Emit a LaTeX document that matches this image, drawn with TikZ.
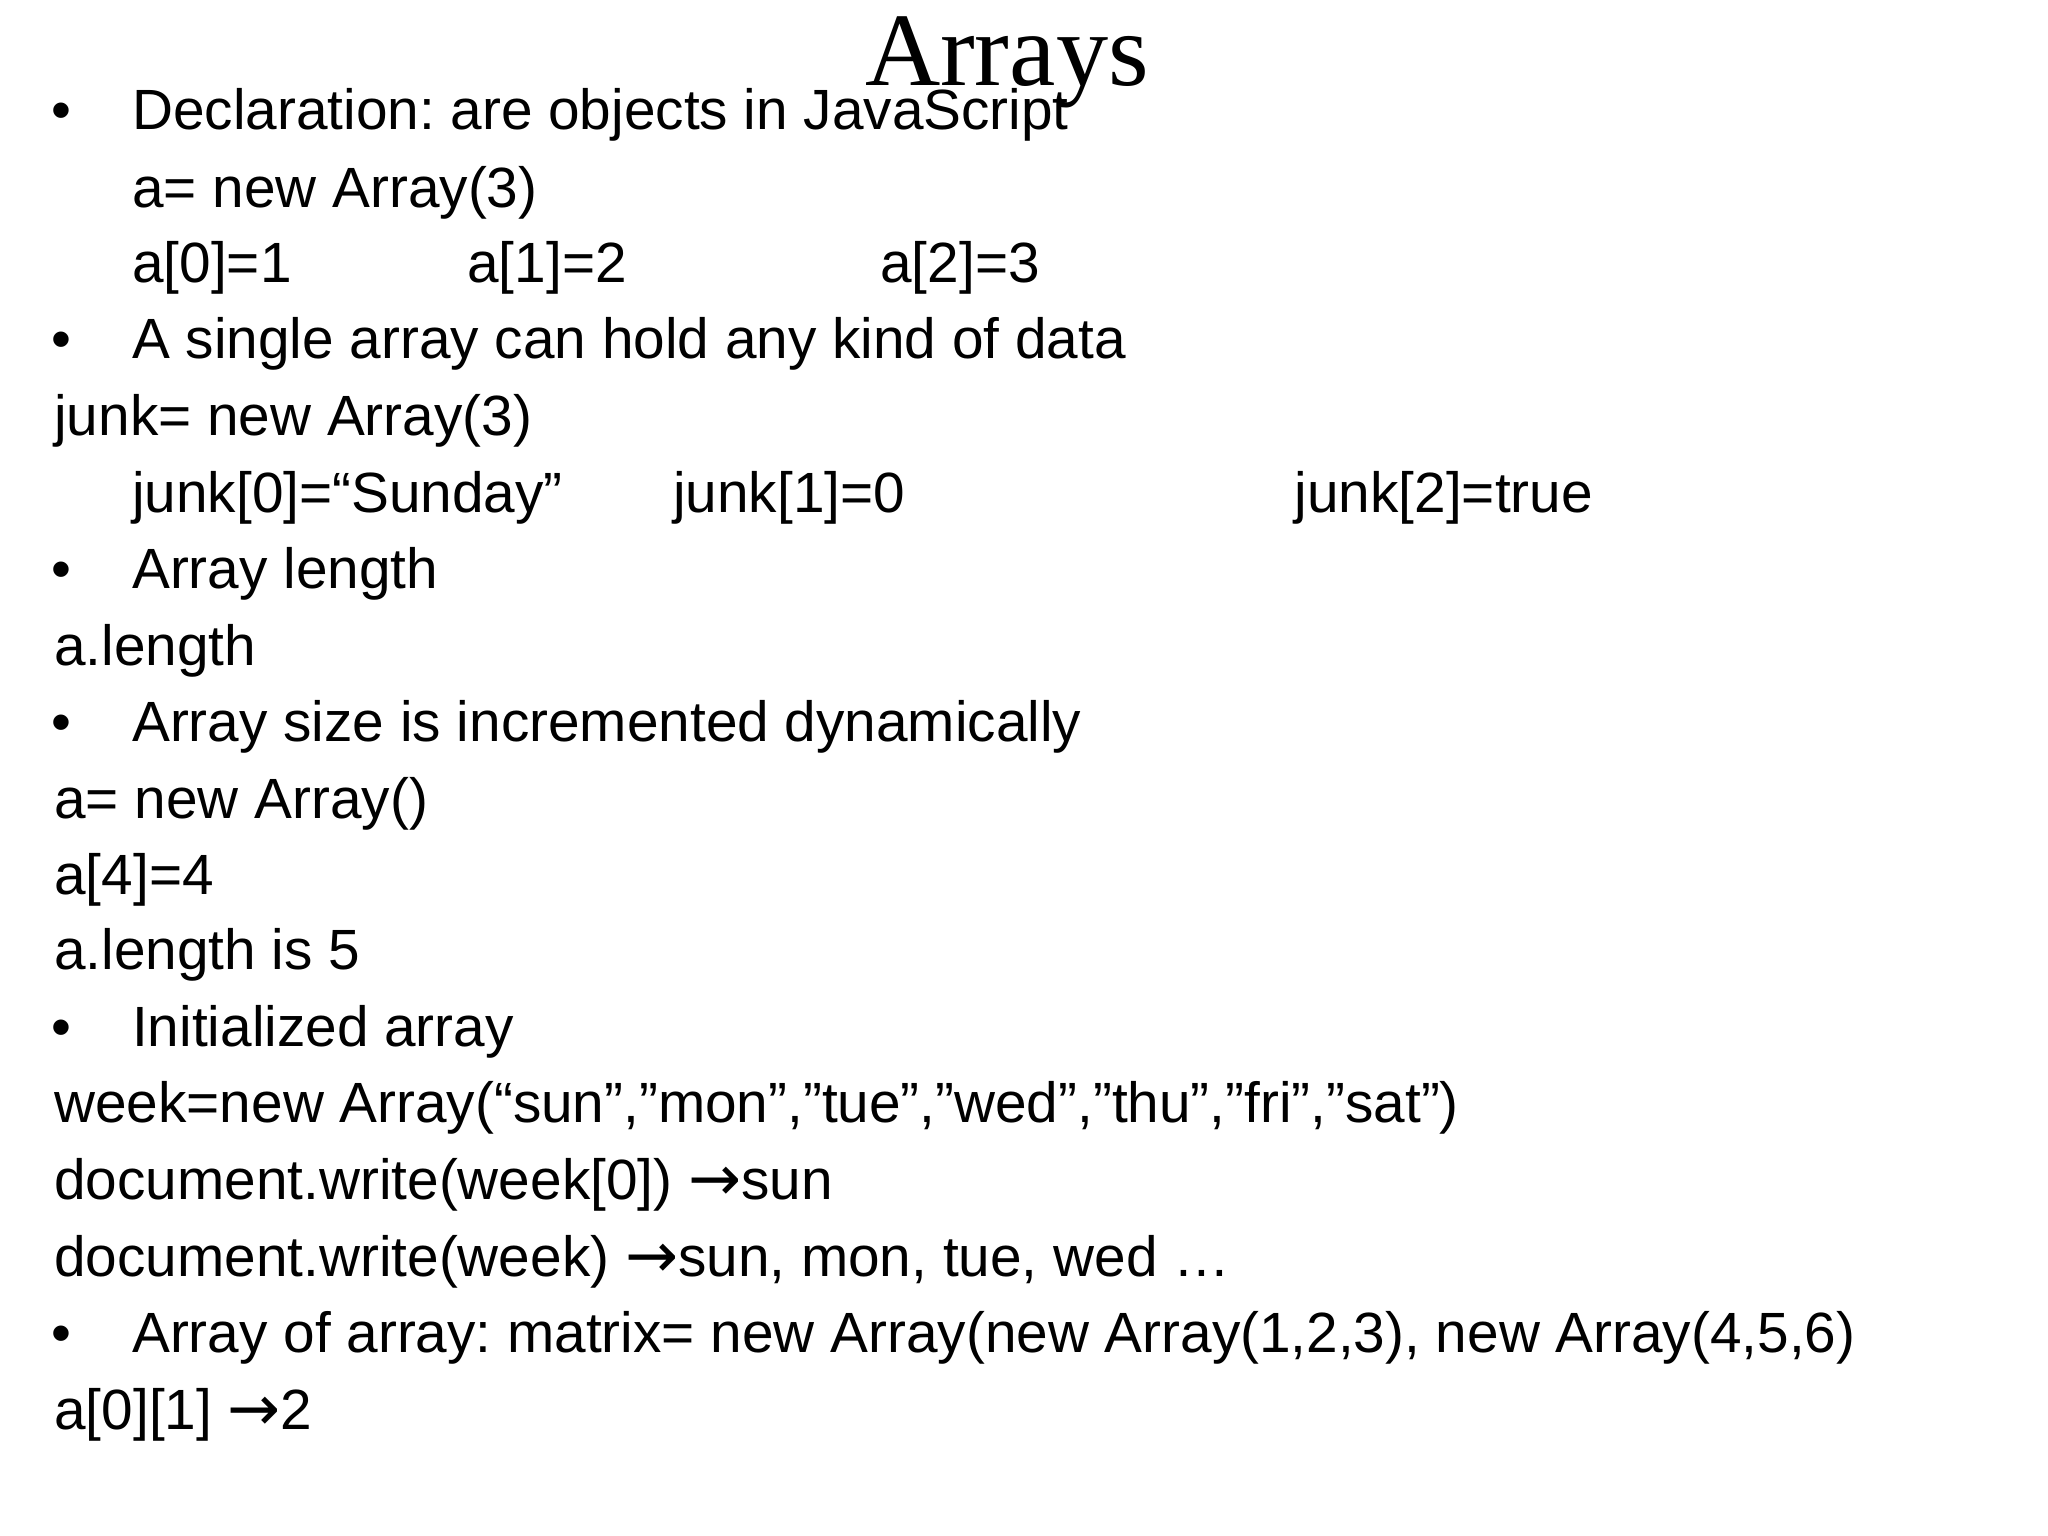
\documentclass[tikz,border=0pt]{standalone}
\usepackage{fontspec}
\setmainfont{Liberation Sans}
\newfontfamily\titlefont{Liberation Serif}
\newfontfamily\arrfont{DejaVu Sans}
\newcommand{\myarr}{{\arrfont\fontsize{48}{50}\selectfont\raisebox{-1pt}{→}}}
\frenchspacing
\begin{document}
\begin{tikzpicture}[x=1pt,y=-1pt,
  t/.style={anchor=base west,inner sep=0pt,font=\frenchspacing\fontsize{43}{50}\selectfont}]
\useasboundingbox[fill=white] (0,0) rectangle (1552,1164);
\node[anchor=base,inner sep=0pt,font=\titlefont\fontsize{79}{90}\selectfont] (title) at (763,65) {Arrays};
\foreach \y/\n in {98/b1,272/b2,446/b3,562/b4,793/b5,1025/b6}
  \node[t] (\n) at (39,\y) {•};
\node[t] (l1) at (100,98) {Declaration: are objects in JavaScript};
\node[t] (l2) at (100,157) {a= new Array(3)};
\node[t] (l3a) at (100,214) {a[0]=1};
\node[t] (l3b) at (354,214) {a[1]=2};
\node[t] (l3c) at (667,214) {a[2]=3};
\node[t] (l4) at (100,272) {A single array can hold any kind of data};
\node[t] (l5) at (41,330) {junk= new Array(3)};
\node[t] (l6a) at (100,388) {junk[0]=“Sunday”};
\node[t] (l6b) at (510,388) {junk[1]=0};
\node[t] (l6c) at (981,388) {junk[2]=true};
\node[t] (l7) at (100,446) {Array length};
\node[t] (l8) at (41,504) {a.length};
\node[t] (l9) at (100,562) {Array size is incremented dynamically};
\node[t] (l10) at (41,620) {a= new Array()};
\node[t] (l11) at (41,678) {a[4]=4};
\node[t] (l12) at (41,735) {a.length is 5};
\node[t] (l13) at (100,793) {Initialized array};
\node[t] (l14) at (41,851) {week=new Array(“sun”,”mon”,”tue”,”wed”,”thu”,”fri”,”sat”)};
\node[t] (l15) at (41,909) {document.write(week[0]) \myarr sun};
\node[t] (l16) at (41,967) {document.write(week) \myarr sun, mon, tue, wed …};
\node[t] (l17) at (100,1025) {Array of array: matrix= new Array(new Array(1,2,3), new Array(4,5,6)};
\node[t] (l18) at (41,1083) {a[0][1] \myarr 2};
\end{tikzpicture}
\end{document}
